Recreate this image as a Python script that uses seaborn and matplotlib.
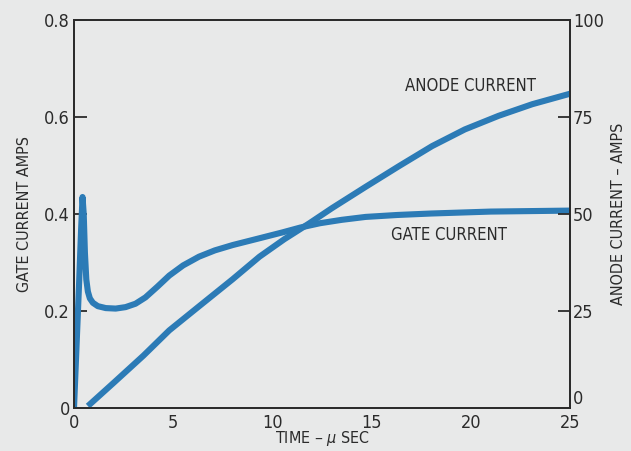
import matplotlib
matplotlib.use("Agg")
import matplotlib.pyplot as plt
import seaborn as sns
import pandas as pd

# Gate current (left axis, amps) versus time in microseconds
gate_time = [0.0, 0.12, 0.25, 0.36, 0.43, 0.49, 0.55, 0.62, 0.70, 0.80, 0.95,
             1.2, 1.6, 2.1, 2.6, 3.1, 3.6, 4.2, 4.8, 5.5, 6.3, 7.1, 8.0,
             9.35, 10.5, 11.4, 12.4, 13.5, 14.7, 16.3, 18.0, 19.5, 21.0, 23.0, 25.0]
gate_amps = [0.0, 0.12, 0.25, 0.37, 0.435, 0.40, 0.32, 0.265, 0.24, 0.226, 0.217,
             0.210, 0.206, 0.205, 0.208, 0.215, 0.228, 0.250, 0.273, 0.294, 0.312, 0.325, 0.336,
             0.350, 0.362, 0.372, 0.381, 0.388, 0.394, 0.398, 0.401, 0.403, 0.405, 0.406, 0.407]

# Anode current (right axis, amps) versus time in microseconds
anode_time = [0.7, 2.0, 3.5, 4.8, 6.3, 8.0, 9.35, 10.6, 11.86, 13.0, 14.7,
              16.4, 18.05, 19.7, 21.4, 23.1, 25.0]
anode_amps = [0.5, 6.5, 13.5, 20.0, 26.2, 33.2, 39.0, 43.5, 47.6, 51.5, 57.0,
              62.4, 67.5, 71.8, 75.3, 78.3, 81.0]

x_ticks = [0, 5, 10, 15, 20, 25]
left_ticks = [0, 0.2, 0.4, 0.6, 0.8]
left_tick_labels = ["0", "0.2", "0.4", "0.6", "0.8"]
right_ticks = [0, 25, 50, 75, 100]
right_tick_labels = ["0", "25", "50", "75", "100"]

paper = "#e8e9e9"
ink = "#2b2b2b"
blue = "#2c7bb6"

sns.set_style("white")
plt.rcParams["font.family"] = ["DejaVu Sans"]
plt.rcParams["font.stretch"] = "condensed"
plt.rcParams["mathtext.fontset"] = "dejavusans"

gate_df = pd.DataFrame({"t": gate_time, "i": gate_amps})
anode_df = pd.DataFrame({"t": anode_time, "i": anode_amps})

fig = plt.figure(figsize=(6.31, 4.51), dpi=100, facecolor=paper)
ax = fig.add_axes([74 / 631, 1 - 408 / 451, (570 - 74) / 631, (408 - 20) / 451])
ax.set_facecolor(paper)
ax2 = ax.twinx()

sns.lineplot(data=gate_df, x="t", y="i", ax=ax, color=blue, linewidth=4.4,
             sort=False, estimator=None, solid_capstyle="round", solid_joinstyle="round")
sns.lineplot(data=anode_df, x="t", y="i", ax=ax2, color=blue, linewidth=4.4,
             sort=False, estimator=None, solid_capstyle="butt", solid_joinstyle="round")

ax.set_xlim(0, 25)
ax.set_ylim(0, 0.8)
ax2.set_ylim(0, 100)

ax.set_xticks(x_ticks)
ax.set_xticklabels([str(v) for v in x_ticks])
ax.set_yticks(left_ticks)
ax.set_yticklabels(left_tick_labels)
ax2.set_yticks(right_ticks)
ax2.set_yticklabels(right_tick_labels)

for a in (ax, ax2):
    for sp in a.spines.values():
        sp.set_visible(True)
        sp.set_color(ink)
        sp.set_linewidth(1.3)
    a.tick_params(direction="in", length=9, width=1.3, color=ink,
                  labelsize=13, labelcolor=ink, pad=3)

ax.tick_params(axis="x", pad=4)
ax.tick_params(axis="y", left=True, right=False)
ax2.tick_params(axis="y", left=False, right=True, pad=2)
# lift the right-hand zero clear of the x tick label below it
ax2.get_yticklabels()[0].set_va("bottom")

ax.set_xlabel("TIME – $\\mu$ SEC", fontsize=11.5, color=ink, labelpad=-2)
ax.set_ylabel("GATE CURRENT AMPS", fontsize=11.5, color=ink, labelpad=9)
ax2.set_ylabel("ANODE CURRENT – AMPS", fontsize=11.5, color=ink, labelpad=5)

ax2.text(20.0, 83, "ANODE CURRENT", fontsize=12, color=ink, ha="center", va="center")
ax2.text(18.9, 44.5, "GATE CURRENT", fontsize=12, color=ink, ha="center", va="center")

fig.savefig("out.png", dpi=100, facecolor=paper)
